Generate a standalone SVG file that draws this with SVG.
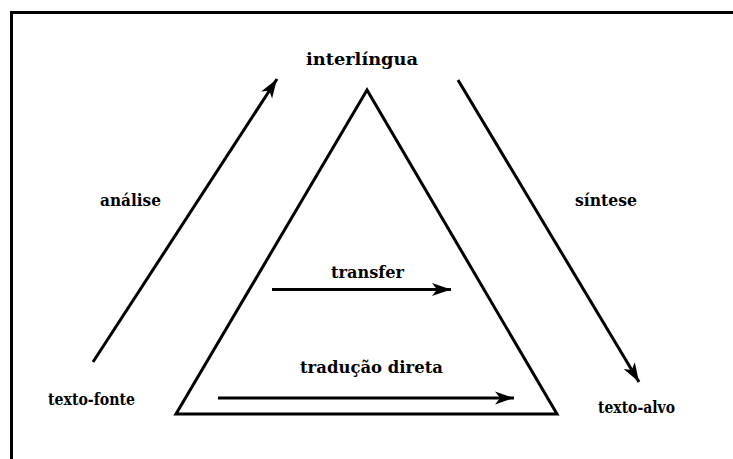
<svg xmlns="http://www.w3.org/2000/svg" width="733" height="459" viewBox="0 0 733 459">
<style>
.t{font-family:"DejaVu Serif",serif;font-weight:bold;font-size:17px;fill:#000}
.ln{stroke:#000;stroke-width:3;fill:none}
</style>
<defs>
<marker id="ah" markerUnits="userSpaceOnUse" markerWidth="24" markerHeight="16" viewBox="-22 -8 24 16" refX="0" refY="0" orient="auto">
<path d="M0,0 L-19,-6.5 L-14,0 L-19,6.5 Z" fill="#000"/>
</marker>
</defs>
<rect width="733" height="459" fill="#fff"/>
<path d="M11.5,459 L11.5,12.5 L733,12.5" class="ln"/>
<g id="triangle">
<polygon points="367,90 176,414 557,414" class="ln" stroke-linejoin="miter"/>
</g>
<g id="connectors">
<line x1="93" y1="362" x2="277" y2="79" class="ln" marker-end="url(#ah)"/>
<line x1="458" y1="80" x2="639" y2="382" class="ln" marker-end="url(#ah)"/>
<line x1="272" y1="289.5" x2="451" y2="289.5" class="ln" marker-end="url(#ah)"/>
<line x1="218" y1="398" x2="514" y2="398" class="ln" marker-end="url(#ah)"/>
</g>
<g id="interlingua"><text class="t" x="306" y="65" font-size="19" textLength="112" lengthAdjust="spacingAndGlyphs">interlíngua</text></g>
<g id="analise"><text class="t" x="100" y="206" textLength="61" lengthAdjust="spacingAndGlyphs">análise</text></g>
<g id="sintese"><text class="t" x="575" y="206" textLength="62" lengthAdjust="spacingAndGlyphs">síntese</text></g>
<g id="texto-fonte"><text class="t" x="48" y="405" textLength="87" lengthAdjust="spacingAndGlyphs">texto-fonte</text></g>
<g id="texto-alvo"><text class="t" x="598" y="413" textLength="77" lengthAdjust="spacingAndGlyphs">texto-alvo</text></g>
<g id="transfer"><text class="t" x="331" y="278" textLength="73" lengthAdjust="spacingAndGlyphs">transfer</text></g>
<g id="traducao"><text class="t" x="300" y="373" textLength="143" lengthAdjust="spacingAndGlyphs">tradução direta</text></g>
</svg>
